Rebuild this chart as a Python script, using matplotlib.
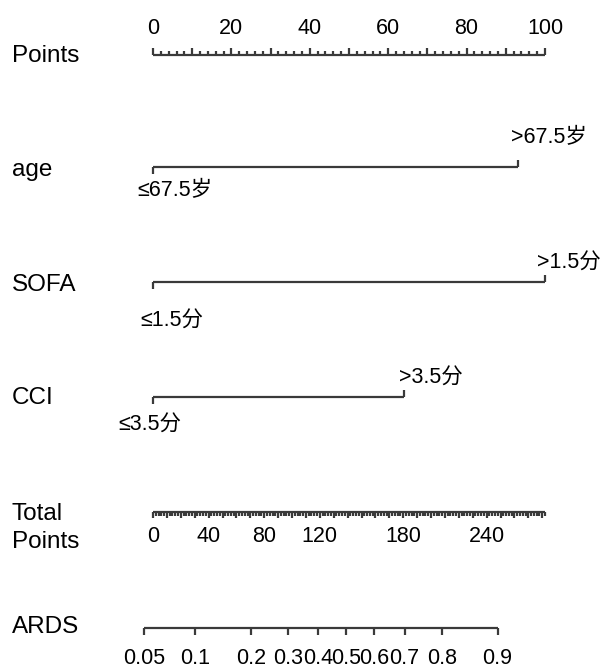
import numpy as np
import matplotlib
matplotlib.use("Agg")
import matplotlib.pyplot as plt

plt.rcParams['font.family'] = ['Liberation Sans', 'Noto Sans CJK SC', 'DejaVu Sans']

# ---- nomogram content ----
row_names = ["Points", "age", "SOFA", "CCI", "Total\nPoints", "ARDS"]
points_ticks = [0, 20, 40, 60, 80, 100]

factor_names = ["age", "SOFA", "CCI"]
factor_low_labels = ["≤67.5岁", "≤1.5分", "≤3.5分"]
factor_high_labels = [">67.5岁", ">1.5分", ">3.5分"]
factor_high_points = [93, 100, 64]

total_ticks = [0, 40, 80, 120, 180, 240]
total_axis_max = 282

ards_probs = [0.05, 0.1, 0.2, 0.3, 0.4, 0.5, 0.6, 0.7, 0.8, 0.9]
lp_intercept = -2.81
lp_per_total_point = 0.0202

# ---- layout (pixel rows, y grows downward) ----
W, H = 607, 669
x0_px, px_per_point = 153.0, 3.92
row_y = {"Points": 55, "age": 167, "SOFA": 282, "CCI": 397, "Total": 512, "ARDS": 628}
name_y = [56, 170, 285, 398, 528, 627]
# label offsets (dx, dy) in pixels for low / high factor labels
low_off = [(-16, 24), (-13, 39), (-35, 28)]
high_off = [(-7, -29), (-8, -19), (-5, -19)]

line_c = "#3a3a3a"
lw = 1.6
fs_name = 17.5
fs_tick = 15.5

fig = plt.figure(figsize=(W / 100, H / 100), dpi=100)
ax = fig.add_axes([0, 0, 1, 1])
ax.set_xlim(-x0_px / px_per_point, (W - x0_px) / px_per_point)
ax.set_ylim(H, 0)
ax.axis("off")

ppx = 1.0 / px_per_point  # one pixel in point units


def ticks(xs, y, length, direction):
    for x in xs:
        ax.plot([x, x], [y, y + direction * length], color=line_c, lw=lw,
                solid_capstyle="butt")


# row names
for name, y in zip(row_names, name_y):
    ax.text(12 * ppx - x0_px * ppx, y, name, fontsize=fs_name, ha="left",
            va="center", color="black", linespacing=1.35)

# Points scale
yp = row_y["Points"]
ax.plot([0, 100], [yp, yp], color=line_c, lw=lw, solid_capstyle="butt")
ticks(np.arange(0, 101, 10), yp, 7, -1)
ticks([v for v in np.arange(0, 101, 2) if v % 10], yp, 4, -1)
for t in points_ticks:
    ax.text(t, yp - 26, str(t), fontsize=fs_tick, ha="center", va="center")

# factor rows
for name, lo, hi, pts, lo_d, hi_d in zip(factor_names, factor_low_labels,
                                         factor_high_labels, factor_high_points,
                                         low_off, high_off):
    y = row_y[name]
    ax.plot([0, pts], [y, y], color=line_c, lw=lw, solid_capstyle="butt")
    ax.plot([0, 0], [y, y + 7], color=line_c, lw=lw, solid_capstyle="butt")
    ax.plot([pts, pts], [y, y - 7], color=line_c, lw=lw, solid_capstyle="butt")
    ax.text(0 + lo_d[0] * ppx, y + lo_d[1], lo, fontsize=fs_tick, ha="left", va="center")
    ax.text(pts + hi_d[0] * ppx, y + hi_d[1], hi, fontsize=fs_tick, ha="left", va="center")

# Total points scale
tp_scale = 100.0 / total_axis_max
yt = row_y["Total"]
ax.plot([0, total_axis_max * tp_scale], [yt, yt], color=line_c, lw=lw,
        solid_capstyle="butt")
ticks(np.arange(0, total_axis_max + 1, 10) * tp_scale, yt, 6, 1)
ticks(np.array([v for v in np.arange(0, total_axis_max + 1, 2) if v % 10]) * tp_scale,
      yt, 3.5, 1)
for t in total_ticks:
    ax.text(t * tp_scale, yt + 24, str(t), fontsize=fs_tick, ha="center", va="center")

# ARDS probability scale
ya = row_y["ARDS"]
probs = np.array(ards_probs)
logit = np.log(probs / (1 - probs))
tp_pos = (logit - lp_intercept) / lp_per_total_point * tp_scale
ax.plot([tp_pos[0], tp_pos[-1]], [ya, ya], color=line_c, lw=lw, solid_capstyle="butt")
ticks(tp_pos, ya, 7, 1)
for p, x in zip(ards_probs, tp_pos):
    ax.text(x, ya + 30, f"{p:g}", fontsize=fs_tick, ha="center", va="center")

fig.savefig("out.png", dpi=100, facecolor="white")
